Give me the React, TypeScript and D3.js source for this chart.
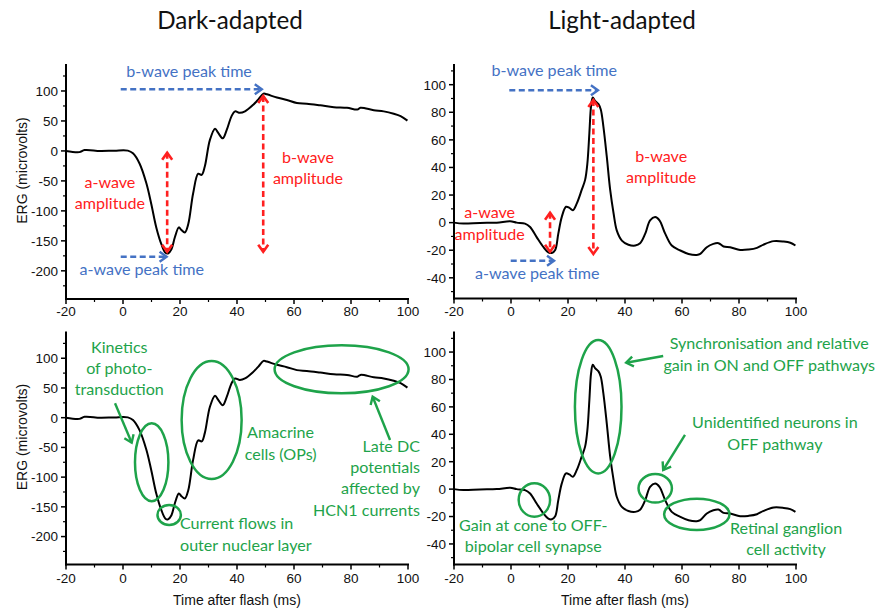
import React from "react";
import * as d3 from "d3";

// ---------- DATA ----------
const darkT = [-20, -15.3, -13.5, -8, -3, 1.7, 3.5, 5.8, 8.2, 9.9, 11.7, 13.5, 14.9, 15.8, 17, 18.2, 19.6, 20.5, 21.7, 22.9, 24.6, 26.4, 27.6, 28.7, 30.5, 32.3, 33.4, 35, 36.4, 38.1, 39.3, 41, 42.8, 45.8, 47.5, 49.3, 50.5, 54, 57.5, 61, 64.5, 69.2, 74, 78.6, 82.2, 83.3, 88, 91.5, 95, 97.4, 99.8];
const darkV = [0, -2, 1.5, 0, 0.5, 0.5, -4, -21, -54, -88, -128, -156, -170, -171, -164, -144, -127.5, -132, -136, -122, -71, -38, -40, -26, 18.5, 37, 30, 21, 35, 58, 66, 63.5, 66, 77.5, 86, 95.5, 94.4, 89, 85, 80, 78.7, 76, 73, 72, 69, 72, 68, 66, 62, 58, 50.5];

const lightT = [-20, -16.7, -10.9, -5, -0.3, 2, 4.9, 6.7, 9, 11.4, 13.1, 14.3, 15.5, 16.6, 17.8, 19.3, 20.5, 21.7, 23.1, 24.8, 26, 26.8, 27.5, 28.1, 28.7, 29.5, 30.7, 31.5, 32.4, 33.6, 34.8, 36, 37.1, 38.9, 41.2, 43.6, 45.3, 47.1, 48.8, 50.6, 52.1, 54.1, 56.4, 59.4, 62.3, 65.2, 66.4, 68.7, 71, 72.8, 74.6, 76.9, 80.4, 83.4, 86.3, 88.6, 92.2, 95.7, 98, 99.8];
const lightV = [0, -0.7, -0.2, 0, 1, 0, -0.7, -3.2, -10.5, -17.8, -21.5, -22, -19.8, -8, 4, 11.5, 10.7, 9, 14, 23.7, 31, 43, 65, 84.6, 90.7, 88.3, 85.9, 82, 70, 48, 23.7, 6.6, -5.6, -13, -16, -16.6, -15, -8, 1.7, 4.1, 1.7, -8, -16.6, -20.2, -22.7, -23.4, -22.7, -17.8, -15.4, -14.9, -17.3, -17.8, -19.8, -19.5, -18.3, -15.9, -13.4, -13.7, -14.6, -16.6];

const xTicks = [-20, 0, 20, 40, 60, 80, 100];
const darkYTicks = [-200, -150, -100, -50, 0, 50, 100];
const lightYTicks = [-40, -20, 0, 20, 40, 60, 80, 100];
const titles = ["Dark-adapted", "Light-adapted"];
const yAxisTitle = "ERG (microvolts)";
const xAxisTitle = "Time after flash (ms)";

// ---------- STYLE ----------
const BLUE = "#4472c4";
const RED = "#ff2020";
const GREEN = "#1ea34a";
const AX_FONT = "'Liberation Sans', Arial, sans-serif";
const ANN_FONT = "Lato, 'Open Sans', sans-serif";
const ANN_SIZE = 16.1;

type Panel = {
  key: string;
  x0: number; x1: number; yTop: number; yBot: number;
  dom: [number, number];
  t: number[]; v: number[];
  yTicks: number[]; yMinorStep: number;
  left: boolean; bottom: boolean;
};

const panels: Panel[] = [
  { key: "tl", x0: 66, x1: 408, yTop: 64, yBot: 299, dom: [-247, 145], t: darkT, v: darkV, yTicks: darkYTicks, yMinorStep: 25, left: true, bottom: false },
  { key: "tr", x0: 454, x1: 796, yTop: 64, yBot: 298.5, dom: [-55, 115], t: lightT, v: lightV, yTicks: lightYTicks, yMinorStep: 10, left: false, bottom: false },
  { key: "bl", x0: 66, x1: 408, yTop: 331.5, yBot: 564.5, dom: [-247, 145], t: darkT, v: darkV, yTicks: darkYTicks, yMinorStep: 25, left: true, bottom: true },
  { key: "br", x0: 454, x1: 796, yTop: 331.5, yBot: 564.5, dom: [-55, 115], t: lightT, v: lightV, yTicks: lightYTicks, yMinorStep: 10, left: false, bottom: true },
];

type Txt = { lines: string[]; x: number; y: number; anchor: "start" | "middle" | "end"; color: string };
type Arr = { x1: number; y1: number; x2: number; y2: number; color: string; dashed: boolean; both: boolean };
type Ell = { cx: number; cy: number; rx: number; ry: number };

// annotations in data coordinates (radii in px)
const annTexts: Record<string, Txt[]> = {
  tl: [
    { lines: ["b-wave peak time"], x: 23.2, y: 123.8, anchor: "middle", color: BLUE },
    { lines: ["a-wave", "amplitude"], x: -4.6, y: -61.8, anchor: "middle", color: RED },
    { lines: ["b-wave", "amplitude"], x: 64.9, y: -20.1, anchor: "middle", color: RED },
    { lines: ["a-wave peak time"], x: 6.6, y: -207, anchor: "middle", color: BLUE },
  ],
  tr: [
    { lines: ["b-wave peak time"], x: 15.2, y: 106.5, anchor: "middle", color: BLUE },
    { lines: ["a-wave", "amplitude"], x: -7.5, y: 3.1, anchor: "middle", color: RED },
    { lines: ["b-wave", "amplitude"], x: 52.7, y: 44.2, anchor: "middle", color: RED },
    { lines: ["a-wave peak time"], x: 9.2, y: -41.1, anchor: "middle", color: BLUE },
  ],
  bl: [
    { lines: ["Kinetics", "of photo-", "transduction"], x: -1.3, y: 109.3, anchor: "middle", color: GREEN },
    { lines: ["Amacrine", "cells (OPs)"], x: 55.3, y: -34.7, anchor: "middle", color: GREEN },
    { lines: ["Late DC", "potentials", "affected by", "HCN1 currents"], x: 104.2, y: -57.2, anchor: "end", color: GREEN },
    { lines: ["Current flows in", "outer nuclear layer"], x: 20, y: -187.8, anchor: "start", color: GREEN },
  ],
  br: [
    { lines: ["Synchronisation and relative", "gain in ON and OFF pathways"], x: 90.6, y: 102, anchor: "middle", color: GREEN },
    { lines: ["Unidentified neurons in", "OFF pathway"], x: 92.6, y: 44.4, anchor: "middle", color: GREEN },
    { lines: ["Gain at cone to OFF-", "bipolar cell synapse"], x: 7.8, y: -30.3, anchor: "middle", color: GREEN },
    { lines: ["Retinal ganglion", "cell activity"], x: 96.5, y: -32.7, anchor: "middle", color: GREEN },
  ],
};

const annArrows: Record<string, Arr[]> = {
  tl: [
    { x1: -0.8, y1: 102.8, x2: 48.7, y2: 102.8, color: BLUE, dashed: true, both: false },
    { x1: -0.8, y1: -176.4, x2: 15.3, y2: -176.4, color: BLUE, dashed: true, both: false },
    { x1: 15.5, y1: -3, x2: 15.5, y2: -168, color: RED, dashed: true, both: true },
    { x1: 49.2, y1: 91.6, x2: 49.2, y2: -168, color: RED, dashed: true, both: true },
  ],
  tr: [
    { x1: -0.6, y1: 96, x2: 30.5, y2: 96, color: BLUE, dashed: true, both: false },
    { x1: -0.1, y1: -27.6, x2: 15.1, y2: -27.6, color: BLUE, dashed: true, both: false },
    { x1: 13.7, y1: 7.2, x2: 13.7, y2: -21.1, color: RED, dashed: true, both: true },
    { x1: 28.9, y1: 88.9, x2: 28.9, y2: -22.7, color: RED, dashed: true, both: true },
  ],
  bl: [
    { x1: -2.8, y1: 24.2, x2: 3.05, y2: -42.1, color: GREEN, dashed: false, both: false },
    { x1: 93.7, y1: -37.5, x2: 87.6, y2: 35.3, color: GREEN, dashed: false, both: false },
  ],
  br: [
    { x1: 53.4, y1: 97.1, x2: 40.4, y2: 92.2, color: GREEN, dashed: false, both: false },
    { x1: 61.05, y1: 39.5, x2: 53.4, y2: 13.95, color: GREEN, dashed: false, both: false },
  ],
};

const annEllipses: Record<string, Ell[]> = {
  tl: [], tr: [],
  bl: [
    { cx: 10.07, cy: -75, rx: 16.7, ry: 39 },
    { cx: 16.2, cy: -163.7, rx: 11.7, ry: 10 },
    { cx: 31.1, cy: -3.9, rx: 30, ry: 59 },
    { cx: 76.7, cy: 81.4, rx: 67, ry: 24 },
  ],
  br: [
    { cx: 30.6, cy: 60.1, rx: 23.3, ry: 66.7 },
    { cx: 50.6, cy: 0.6, rx: 16.7, ry: 14.3 },
    { cx: 8.2, cy: -7.9, rx: 15.7, ry: 16.7 },
    { cx: 65.2, cy: -18.4, rx: 32.7, ry: 15.7 },
  ],
};

function arrowHead(x1: number, y1: number, x2: number, y2: number, len: number, half: number) {
  const a = Math.atan2(y2 - y1, x2 - x1);
  const bx = x2 - len * Math.cos(a);
  const by = y2 - len * Math.sin(a);
  const px = -Math.sin(a) * half;
  const py = Math.cos(a) * half;
  return `M${bx + px},${by + py}L${x2},${y2}L${bx - px},${by - py}`;
}

function PanelView({ p }: { p: Panel }) {
  const xs = d3.scaleLinear().domain([-20, 100]).range([p.x0, p.x1]);
  const ys = d3.scaleLinear().domain(p.dom).range([p.yBot, p.yTop]);
  const line = d3
    .line<number>()
    .x((_, i) => xs(p.t[i]))
    .y((d) => ys(d))
    .curve(d3.curveCatmullRom.alpha(0.5));
  const xMinor = d3.range(-10, 100, 20);
  const yMinor: number[] = [];
  const step = p.yMinorStep;
  for (let v = Math.ceil(p.dom[0] / step) * step; v <= p.dom[1]; v += step) {
    if (!p.yTicks.includes(v)) yMinor.push(v);
  }
  const axisY = p.yBot;
  const labelBase = axisY + (p.bottom ? 18 : 17);
  return (
    <g>
      {/* curve */}
      <path d={line(p.v) || ""} fill="none" stroke="#000" strokeWidth={2} strokeLinejoin="round" />
      {/* ellipses */}
      {annEllipses[p.key].map((e, i) => (
        <ellipse key={i} cx={xs(e.cx)} cy={ys(e.cy)} rx={e.rx} ry={e.ry} fill="none" stroke={GREEN} strokeWidth={2.5} />
      ))}
      {/* arrows */}
      {annArrows[p.key].map((a, i) => {
        const X1 = xs(a.x1), Y1 = ys(a.y1), X2 = xs(a.x2), Y2 = ys(a.y2);
        const w = a.color === RED ? 2.6 : 2.4;
        return (
          <g key={i} stroke={a.color} strokeWidth={w} fill="none" strokeLinecap="butt">
            <line x1={X1} y1={Y1} x2={X2} y2={Y2} strokeDasharray={a.dashed ? "6,3.5" : undefined} />
            <path d={arrowHead(X1, Y1, X2, Y2, 7, 5)} strokeLinejoin="miter" />
            {a.both && <path d={arrowHead(X2, Y2, X1, Y1, 7, 5)} strokeLinejoin="miter" />}
          </g>
        );
      })}
      {/* texts */}
      {annTexts[p.key].map((t, i) => (
        <text key={i} x={xs(t.x)} y={ys(t.y)} textAnchor={t.anchor} fill={t.color} fontFamily={ANN_FONT} fontSize={ANN_SIZE}>
          {t.lines.map((l, j) => (
            <tspan key={j} x={xs(t.x)} dy={j === 0 ? 0 : 21.3}>{l}</tspan>
          ))}
        </text>
      ))}
      {/* axes */}
      <line x1={p.x0} y1={p.yTop} x2={p.x0} y2={axisY + 1} stroke="#000" strokeWidth={2} />
      <line x1={p.x0 - 1} y1={axisY} x2={p.x1 + 1} y2={axisY} stroke="#000" strokeWidth={2} />
      {xTicks.map((t) => (
        <g key={"xt" + t}>
          <line x1={xs(t)} x2={xs(t)} y1={axisY} y2={axisY + 5} stroke="#000" strokeWidth={1.5} />
          <text x={xs(t)} y={labelBase} textAnchor="middle" fontFamily={AX_FONT} fontSize={13.5} fill="#111">{t}</text>
        </g>
      ))}
      {xMinor.map((t) => (
        <line key={"xm" + t} x1={xs(t)} x2={xs(t)} y1={axisY} y2={axisY + 3} stroke="#000" strokeWidth={1.2} />
      ))}
      {p.yTicks.map((t) => (
        <g key={"yt" + t}>
          <line x1={p.x0 - 5} x2={p.x0} y1={ys(t)} y2={ys(t)} stroke="#000" strokeWidth={1.5} />
          <text x={p.x0 - 8} y={ys(t)} dy="0.36em" textAnchor="end" fontFamily={AX_FONT} fontSize={13.5} fill="#111">{t}</text>
        </g>
      ))}
      {yMinor.map((t) => (
        <line key={"ym" + t} x1={p.x0 - 3} x2={p.x0} y1={ys(t)} y2={ys(t)} stroke="#000" strokeWidth={1.2} />
      ))}
      {p.left && (
        <text
          transform={`translate(${22},${(p.yTop + p.yBot) / 2 - 11}) rotate(-90)`}
          textAnchor="middle" dy="0.35em" fontFamily={AX_FONT} fontSize={14} fill="#111"
        >
          {yAxisTitle}
        </text>
      )}
      {p.bottom && (
        <text x={(p.x0 + p.x1) / 2} y={605} textAnchor="middle" fontFamily={AX_FONT} fontSize={14} fill="#111">
          {xAxisTitle}
        </text>
      )}
    </g>
  );
}

export default function App() {
  return (
    <svg width={877} height={611} style={{ position: "absolute", left: 0, top: 0, background: "#fff" }}>
      <rect width={877} height={611} fill="#fff" />
      <text x={230} y={28.5} textAnchor="middle" fontFamily={ANN_FONT} fontSize={24.2} fill="#111">{titles[0]}</text>
      <text x={622} y={28.5} textAnchor="middle" fontFamily={ANN_FONT} fontSize={24.2} fill="#111">{titles[1]}</text>
      {panels.map((p) => (
        <PanelView key={p.key} p={p} />
      ))}
    </svg>
  );
}
